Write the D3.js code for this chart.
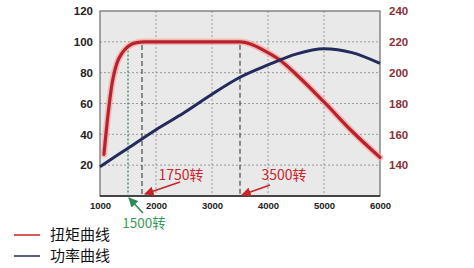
<!DOCTYPE html>
<html><head><meta charset="utf-8">
<script src="https://cdn.jsdelivr.net/npm/d3@7"></script>
<style>body{margin:0;background:#fff;}svg{display:block;}</style>
</head><body>
<svg id="c" width="474" height="268"></svg>
<script>
const rpmTorque = [1070,1150,1220,1300,1400,1500,1650,1800,3500,3700,3900,4200,4500,5000,5500,6000];
const torque    = [27,55,74,86,93,97,99.5,100,100,98.5,95,88.5,79,61,42,25];
const rpmPower  = [1000,1500,2000,2500,3000,3500,4000,4500,5000,5500,6000];
const power     = [19,31,43,54,66,77,85,92,95.5,93,86];
const xTicks = [1000,2000,3000,4000,5000,6000];
const leftTicks = [20,40,60,80,100,120];
const rightTicks = [140,160,180,200,220,240];
const marks = [{rpm:1500,label:"1500转"},{rpm:1750,label:"1750转"},{rpm:3500,label:"3500转"}];
const legendLabels = ["扭矩曲线","功率曲线"];

const svg = d3.select("#c");
const L=100,R=380,T=11,B=196;
const x = d3.scaleLinear().domain([1000,6000]).range([L,R]);
const y = d3.scaleLinear().domain([0,120]).range([B,T]);
const y2 = d3.scaleLinear().domain([120,240]).range([B,T]);

svg.append("rect").attr("x",L).attr("y",T).attr("width",R-L).attr("height",B-T).attr("fill","#e9e9e9");
svg.append("g").selectAll("line").data(xTicks.slice(1,-1)).join("line")
  .attr("x1",d=>x(d)).attr("x2",d=>x(d)).attr("y1",T).attr("y2",B)
  .attr("stroke","#9a9a9a").attr("stroke-width",1).attr("stroke-dasharray","2,2");
svg.append("g").selectAll("line").data(leftTicks.slice(0,-1)).join("line")
  .attr("x1",L).attr("x2",R).attr("y1",d=>y(d)).attr("y2",d=>y(d))
  .attr("stroke","#9a9a9a").attr("stroke-width",1).attr("stroke-dasharray","2,2");
svg.append("rect").attr("x",L).attr("y",T).attr("width",R-L).attr("height",B-T)
  .attr("fill","none").attr("stroke","#6a6a6a").attr("stroke-width",1.2);
svg.append("line").attr("x1",L).attr("x2",R).attr("y1",B).attr("y2",B).attr("stroke","#444").attr("stroke-width",2);

const ax = d3.axisBottom(x).tickValues(xTicks).tickSize(0).tickPadding(6).tickFormat(d3.format("d"));
const gx = svg.append("g").attr("transform",`translate(0,${B})`).call(ax);
const ay = d3.axisLeft(y).tickValues(leftTicks).tickSize(0).tickPadding(7);
const gy = svg.append("g").attr("transform",`translate(${L},0)`).call(ay);
const ay2 = d3.axisRight(y2).tickValues(rightTicks).tickSize(0).tickPadding(9);
const gy2 = svg.append("g").attr("transform",`translate(${R},0)`).call(ay2);
[gx,gy,gy2].forEach(g=>{g.select(".domain").remove();
  g.selectAll("text").attr("font-family","Liberation Sans, Arial, sans-serif").attr("font-weight","bold").attr("fill","#222");});
gx.selectAll("text").attr("font-size",9.5);
gy.selectAll("text").attr("font-size",11.5);
gy2.selectAll("text").attr("font-size",11.5).attr("fill","#8a2f35");

const tData = rpmTorque.map((r,i)=>[r,torque[i]]);
const pData = rpmPower.map((r,i)=>[r,power[i]]);
const line = d3.line().x(d=>x(d[0])).y(d=>y(d[1])).curve(d3.curveMonotoneX);
const tAt = r => { for(let i=1;i<tData.length;i++){ if(r<=tData[i][0]){const a=tData[i-1],b=tData[i];return a[1]+(b[1]-a[1])*(r-a[0])/(b[0]-a[0]);}} return 100; };

svg.append("line").attr("x1",x(marks[0].rpm)).attr("x2",x(marks[0].rpm)).attr("y1",y(tAt(marks[0].rpm))+4).attr("y2",B)
  .attr("stroke","#2e8b57").attr("stroke-width",1.3).attr("stroke-dasharray","2,2");
[marks[1].rpm,marks[2].rpm].forEach(r=>svg.append("line").attr("x1",x(r)).attr("x2",x(r)).attr("y1",y(tAt(r))+3).attr("y2",B)
  .attr("stroke","#555").attr("stroke-width",1.3).attr("stroke-dasharray","5,3"));

svg.append("path").datum(tData).attr("d",line).attr("fill","none").attr("stroke","#f4a9a9").attr("stroke-width",6.5).attr("stroke-linecap","round").attr("opacity",0.75);
svg.append("path").datum(tData).attr("d",line).attr("fill","none").attr("stroke","#b8232b").attr("stroke-width",3.2).attr("stroke-linecap","round");
svg.append("path").datum(pData).attr("d",line).attr("fill","none").attr("stroke","#232a5c").attr("stroke-width",3);

const defs = svg.append("defs");
function marker(id,color){defs.append("marker").attr("id",id).attr("viewBox","0 0 10 10").attr("refX",9).attr("refY",5)
  .attr("markerWidth",6).attr("markerHeight",6).attr("orient","auto").append("path").attr("d","M0,0L10,5L0,10z").attr("fill",color);}
marker("ar","#c8242c"); marker("ag","#2e8b57");
function arrow(x1,y1,x2,y2,id,c){svg.append("line").attr("x1",x1).attr("y1",y1).attr("x2",x2).attr("y2",y2)
  .attr("stroke",c).attr("stroke-width",1.6).attr("marker-end",`url(#${id})`);}
arrow(180,182,145,194,"ar","#c8242c");
arrow(270,185,242,195,"ar","#c8242c");
arrow(143,213,129,198,"ag","#2e8b57");
const cjk = "Noto Sans CJK SC, sans-serif";
svg.append("text").attr("x",181).attr("y",175).attr("dy","0.35em").attr("text-anchor","middle").attr("font-family",cjk).attr("font-size",14).attr("fill","#c8242c").text(marks[1].label);
svg.append("text").attr("x",284).attr("y",175).attr("dy","0.35em").attr("text-anchor","middle").attr("font-family",cjk).attr("font-size",14).attr("fill","#c8242c").text(marks[2].label);
svg.append("text").attr("x",144).attr("y",223).attr("dy","0.35em").attr("text-anchor","middle").attr("font-family",cjk).attr("font-size",13.5).attr("fill","#3a9a5c").text(marks[0].label);

const lg = [{c:"#c8242c",y:235},{c:"#232a5c",y:256}];
lg.forEach((d,i)=>{
  svg.append("line").attr("x1",14).attr("x2",40).attr("y1",d.y).attr("y2",d.y).attr("stroke",d.c).attr("stroke-width",1.5);
  svg.append("text").attr("x",50).attr("y",d.y).attr("dy","0.35em").attr("font-family",cjk).attr("font-size",15).attr("fill","#111").text(legendLabels[i]);
});
</script>
</body></html>
